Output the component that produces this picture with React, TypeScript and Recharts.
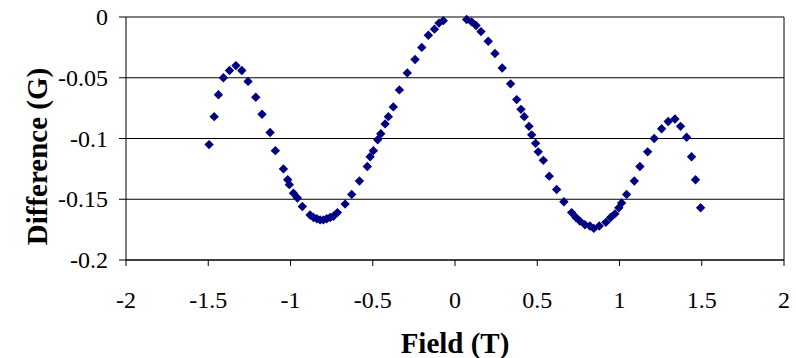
import React from 'react';
import { ScatterChart, Scatter, XAxis, YAxis, CartesianGrid } from 'recharts';

const fieldValues: number[] = [
  -1.495, -1.464, -1.438, -1.408, -1.371, -1.332, -1.296, -1.258, -1.211, -1.173,
  -1.124, -1.092, -1.043, -1.017, -1.007, -0.982, -0.958, -0.928, -0.881, -0.86,
  -0.84, -0.82, -0.8, -0.78, -0.759, -0.739, -0.715, -0.668, -0.628, -0.581,
  -0.533, -0.516, -0.496, -0.47, -0.451, -0.425, -0.405, -0.375, -0.338, -0.29,
  -0.243, -0.202, -0.162, -0.125, -0.097, -0.071,
  0.071, 0.101, 0.128, 0.158, 0.202, 0.243, 0.287, 0.338, 0.375, 0.401,
  0.421, 0.45, 0.466, 0.49, 0.506, 0.537, 0.573, 0.618, 0.662, 0.709,
  0.735, 0.759, 0.79, 0.82, 0.844, 0.877, 0.917, 0.946, 0.972, 0.996,
  1.013, 1.043, 1.09, 1.124, 1.171, 1.211, 1.256, 1.296, 1.337, 1.371,
  1.408, 1.438, 1.462, 1.493,
];

const differenceValues: number[] = [
  -0.105, -0.082, -0.064, -0.05, -0.044, -0.04, -0.044, -0.053, -0.066, -0.08,
  -0.095, -0.11, -0.125, -0.134, -0.138, -0.145, -0.149, -0.156, -0.163, -0.165,
  -0.166, -0.167, -0.167, -0.166, -0.165, -0.164, -0.161, -0.154, -0.146, -0.135,
  -0.123, -0.115, -0.11, -0.101, -0.096, -0.088, -0.082, -0.074, -0.06, -0.046,
  -0.035, -0.025, -0.015, -0.01, -0.005, -0.003,
  -0.002, -0.004, -0.007, -0.012, -0.02, -0.03, -0.042, -0.055, -0.068, -0.076,
  -0.082, -0.09, -0.097, -0.104, -0.111, -0.118, -0.131, -0.142, -0.152, -0.161,
  -0.165, -0.168, -0.171, -0.172, -0.174, -0.172, -0.169, -0.165, -0.162, -0.157,
  -0.153, -0.146, -0.135, -0.123, -0.111, -0.1, -0.092, -0.086, -0.084, -0.09,
  -0.099, -0.115, -0.134, -0.157,
];

const xTicks: number[] = [-2, -1.5, -1, -0.5, 0, 0.5, 1, 1.5, 2];
const yTicks: number[] = [0, -0.05, -0.1, -0.15, -0.2];

const data = fieldValues.map((f, i) => ({ field: f, diff: differenceValues[i] }));

const FONT = "'Liberation Serif', 'Times New Roman', serif";
const MARKER = '#000080';
const tickStyle: React.CSSProperties = { fontFamily: FONT, fontSize: '24px', fill: '#000' };
const titleStyle: React.CSSProperties = { fontFamily: FONT, fontSize: '29px', fontWeight: 'bold', fill: '#000' };

const Diamond = (props: any) => {
  const { cx, cy } = props;
  if (cx == null || cy == null) return null;
  const r = 4.7;
  return (
    <path
      d={`M${cx},${cy - r}L${cx + r},${cy}L${cx},${cy + r}L${cx - r},${cy}Z`}
      fill={MARKER}
    />
  );
};

const XTick = (props: any) => {
  const { x, y, payload } = props;
  return (
    <g>
      <text x={x} y={y + 17} textAnchor="middle" style={tickStyle}>
        {String(payload.value)}
      </text>
    </g>
  );
};

const YTick = (props: any) => {
  const { x, y, payload } = props;
  return (
    <g>
      <text x={x} y={y + 8} textAnchor="end" style={tickStyle}>
        {String(payload.value)}
      </text>
    </g>
  );
};

const YTitle = (props: any) => {
  const vb = props.viewBox || {};
  const cx = 47;
  const cy = (vb.y ?? 17) + (vb.height ?? 243) / 2 + 18;
  return (
    <text
      x={cx}
      y={cy}
      transform={`rotate(-90, ${cx}, ${cy})`}
      textAnchor="middle"
      style={titleStyle}
    >
      Difference (G)
    </text>
  );
};

const XTitle = (props: any) => {
  const vb = props.viewBox || {};
  const cx = (vb.x ?? 126) + (vb.width ?? 658) / 2;
  const cy = 353;
  return (
    <text x={cx} y={cy} textAnchor="middle" style={titleStyle}>
      Field (T)
    </text>
  );
};

export default function App() {
  return (
    <div style={{ position: 'absolute', left: 0, top: 0, width: 796, height: 358, background: '#fff', fontFamily: FONT }}>
      <ScatterChart
        width={796}
        height={358}
        margin={{ top: 17, right: 12, bottom: 38, left: 60 }}
        style={{ fontFamily: FONT }}
      >
        <CartesianGrid
          stroke="#000"
          strokeWidth={1}
          vertical={true}
          verticalCoordinatesGenerator={({ offset }: any) => [offset.left + offset.width]}
        />
        <XAxis
          type="number"
          dataKey="field"
          domain={[-2, 2]}
          ticks={xTicks}
          height={60}
          stroke="#000"
          tickSize={6}
          tickMargin={25}
          tick={XTick}
          tickLine={{ stroke: '#000' }}
          axisLine={{ stroke: '#000' }}
          interval={0}
          label={{ content: XTitle }}
        />
        <YAxis
          type="number"
          dataKey="diff"
          domain={[-0.2, 0]}
          ticks={yTicks}
          width={66}
          stroke="#000"
          tickSize={7}
          tickMargin={11}
          tick={YTick}
          tickLine={{ stroke: '#000' }}
          axisLine={{ stroke: '#000' }}
          interval={0}
          label={{ content: YTitle }}
        />
        <Scatter data={data} shape={Diamond} isAnimationActive={false} />
      </ScatterChart>
    </div>
  );
}
